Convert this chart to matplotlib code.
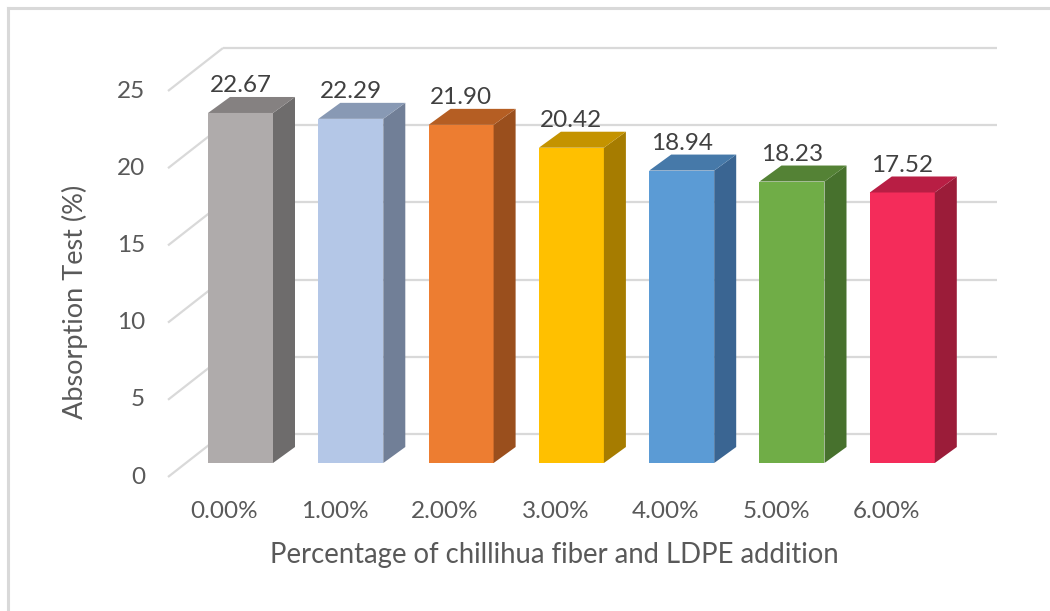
import matplotlib
matplotlib.use("Agg")
import matplotlib.pyplot as plt
from matplotlib.patches import Polygon
from matplotlib.lines import Line2D

plt.rcParams['font.family'] = ['Lato', 'DejaVu Sans']

# ---- data -------------------------------------------------------------
categories = ["0.00%", "1.00%", "2.00%", "3.00%", "4.00%", "5.00%", "6.00%"]
absorption = [22.67, 22.29, 21.90, 20.42, 18.94, 18.23, 17.52]
y_ticks = [0, 5, 10, 15, 20, 25]
x_title = "Percentage of chillihua fiber and LDPE addition"
y_title = "Absorption Test (%)"

# ---- style ------------------------------------------------------------
front_colors = ["#AFABAB", "#B4C7E7", "#ED7D31", "#FFC000", "#5B9BD5", "#70AD47", "#F42C5A"]
side_colors = ["#6E6C6C", "#717F97", "#9A4F1D", "#A67C00", "#3A6592", "#47712D", "#9B1C39"]
top_colors = ["#858181", "#8899B4", "#B55E23", "#C49300", "#4679A9", "#548235", "#B81E44"]
text_color = "#595959"
label_color = "#404040"
grid_color = "#D9D9D9"

W, H, DPI = 1050, 611, 100
PX = 110.3          # pixels per category step
PY = 15.44          # pixels per value unit
bar_w = 65 / PX     # front face width (category units)
bar_dx, bar_dy = 22 / PX, 16 / PY      # bar depth
front_dx, front_dy = -18 / PX, -14 / PY  # front floor edge relative to bar faces
back_dx, back_dy = 37 / PX, 29 / PY      # back wall relative to bar faces
wall_left = (168 - 240.5) / PX + 18 / PX  # left wall, at bar-face depth
wall_right = (997 - 240.5) / PX - back_dx

fig = plt.figure(figsize=(W / DPI, H / DPI), dpi=DPI)
ax = fig.add_axes([0, 0, 1, 1])
ax.set_xlim(-240.5 / PX, (W - 240.5) / PX)
ax.set_ylim(-(H - 463) / PY, 463 / PY)
ax.axis("off")

# chart frame (left and top edges)
fig.add_artist(Line2D([7.5 / W, 7.5 / W], [0, 1 - 7.5 / H], color="#D9D9D9", lw=2.2,
                      transform=fig.transFigure))
fig.add_artist(Line2D([7.5 / W, 1], [1 - 7.5 / H, 1 - 7.5 / H], color="#D9D9D9", lw=2.2,
                      transform=fig.transFigure))

# back wall gridlines and left wall diagonals
for t in y_ticks:
    ax.plot([wall_left + back_dx, wall_right + back_dx], [t + back_dy, t + back_dy],
            color=grid_color, lw=1.6, zorder=1, solid_capstyle="butt")
    ax.plot([wall_left + front_dx, wall_left + back_dx], [t + front_dy, t + back_dy],
            color=grid_color, lw=1.6, zorder=1, solid_capstyle="butt")
    ax.text(wall_left + front_dx - 23 / PX, t + front_dy, str(t), ha="right", va="center",
            fontsize=17.5, color=text_color)

# 3-D columns
for i, (cat, v) in enumerate(zip(categories, absorption)):
    x0, x1 = i - bar_w / 2, i + bar_w / 2
    front = Polygon([(x0, 0), (x1, 0), (x1, v), (x0, v)], closed=True,
                    facecolor=front_colors[i], edgecolor="none", zorder=3)
    side = Polygon([(x1, 0), (x1 + bar_dx, bar_dy), (x1 + bar_dx, v + bar_dy), (x1, v)],
                   closed=True, facecolor=side_colors[i], edgecolor="none", zorder=3)
    top = Polygon([(x0, v), (x1, v), (x1 + bar_dx, v + bar_dy), (x0 + bar_dx, v + bar_dy)],
                  closed=True, facecolor=top_colors[i], edgecolor="none", zorder=3)
    for p in (front, side, top):
        ax.add_patch(p)
    ax.text(i, v + bar_dy + 4.5 / PY, f"{v:.2f}", ha="center", va="baseline",
            fontsize=17.5, color=label_color, zorder=4)
    ax.text(i - 16 / PX, -49 / PY, cat, ha="center", va="center",
            fontsize=17.5, color=text_color)

# axis titles
fig.text(554 / W, 1 - 555 / H, x_title, ha="center", va="center",
         fontsize=19.8, color=text_color)
fig.text(75 / W, 1 - 302 / H, y_title, ha="center", va="center", rotation=90,
         fontsize=19.5, color=text_color)

fig.savefig("out.png", dpi=DPI)
